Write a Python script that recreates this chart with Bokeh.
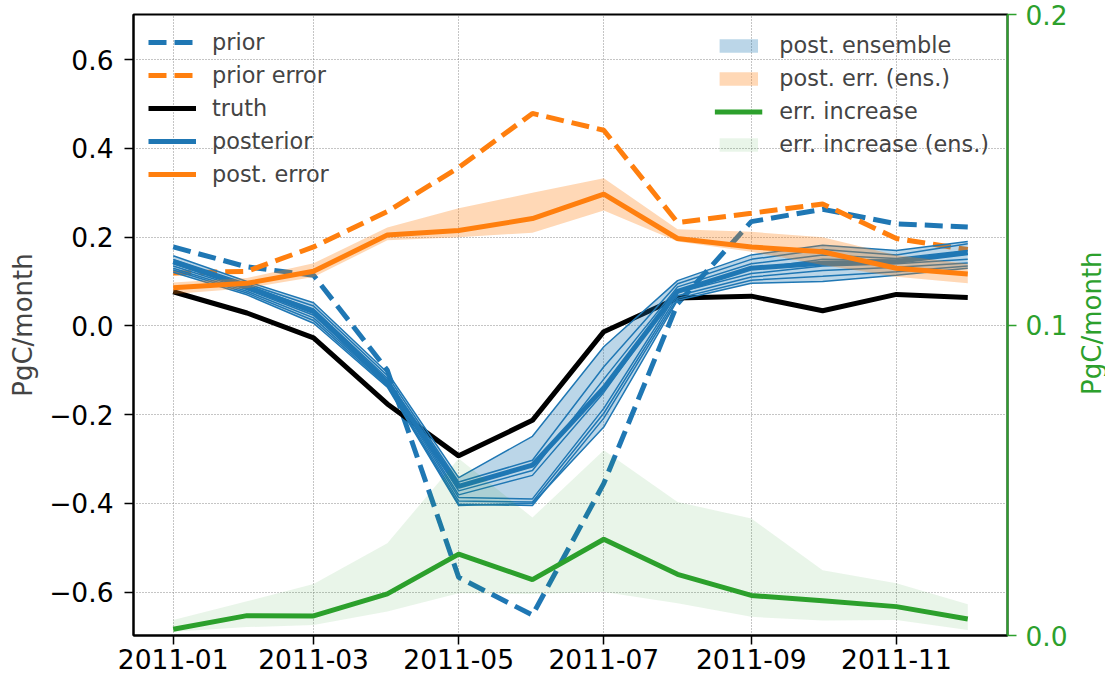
import numpy as np
import pandas as pd
from bokeh.plotting import figure
from bokeh.layouts import row
from bokeh.models import (Range1d, LinearAxis, FixedTicker, Legend, LegendItem)
from bokeh.core.properties import value
from bokeh.embed import file_html
from bokeh.resources import INLINE

# ---------------- data ----------------
months = ["2011-01", "2011-02", "2011-03", "2011-04", "2011-05", "2011-06",
          "2011-07", "2011-08", "2011-09", "2011-10", "2011-11", "2011-12"]
x_tick_labels = ["2011-01", "2011-03", "2011-05", "2011-07", "2011-09", "2011-11"]
y_ticks = [-0.6, -0.4, -0.2, 0.0, 0.2, 0.4, 0.6]
y_tick_labels = ["\u22120.6", "\u22120.4", "\u22120.2", "0.0", "0.2", "0.4", "0.6"]
y2_ticks = [0.0, 0.1, 0.2]
y2_tick_labels = ["0.0", "0.1", "0.2"]

truth = [0.077, 0.029, -0.027, -0.176, -0.293, -0.213, -0.013, 0.063, 0.067, 0.034, 0.071, 0.064]
prior = [0.178, 0.133, 0.114, -0.100, -0.567, -0.652, -0.355, 0.050, 0.235, 0.263, 0.230, 0.223]
prior_error = [0.119, 0.123, 0.178, 0.258, 0.357, 0.479, 0.441, 0.233, 0.254, 0.275, 0.197, 0.172]
posterior = [0.145, 0.088, 0.032, -0.128, -0.362, -0.314, -0.140, 0.078, 0.130, 0.141, 0.145, 0.165]
post_error = [0.086, 0.096, 0.123, 0.205, 0.215, 0.242, 0.297, 0.197, 0.178, 0.167, 0.130, 0.117]
post_err_ens_lo = [0.072, 0.085, 0.110, 0.193, 0.200, 0.210, 0.260, 0.190, 0.167, 0.137, 0.111, 0.096]
post_err_ens_hi = [0.098, 0.108, 0.141, 0.222, 0.265, 0.300, 0.333, 0.218, 0.212, 0.200, 0.159, 0.140]

ens_1 = [0.158, 0.100, 0.052, -0.105, -0.342, -0.249, -0.047, 0.102, 0.160, 0.182, 0.170, 0.190]
ens_2 = [0.150, 0.095, 0.045, -0.112, -0.352, -0.303, -0.092, 0.095, 0.150, 0.172, 0.160, 0.185]
ens_3 = [0.145, 0.090, 0.038, -0.118, -0.372, -0.326, -0.120, 0.088, 0.140, 0.160, 0.152, 0.170]
ens_4 = [0.140, 0.086, 0.030, -0.124, -0.381, -0.337, -0.150, 0.080, 0.128, 0.150, 0.148, 0.162]
ens_5 = [0.135, 0.082, 0.024, -0.128, -0.387, -0.390, -0.186, 0.075, 0.118, 0.135, 0.140, 0.150]
ens_6 = [0.130, 0.078, 0.018, -0.132, -0.395, -0.397, -0.197, 0.068, 0.110, 0.125, 0.132, 0.142]
ens_7 = [0.126, 0.074, 0.012, -0.135, -0.402, -0.405, -0.208, 0.062, 0.103, 0.112, 0.122, 0.135]
ens_8 = [0.121, 0.070, 0.006, -0.138, -0.405, -0.400, -0.228, 0.058, 0.096, 0.100, 0.114, 0.130]

err_increase = [0.0020, 0.0064, 0.0063, 0.0134, 0.0262, 0.0180, 0.0310, 0.0197, 0.0129, 0.0112, 0.0093, 0.0053]
err_inc_ens_lo = [0.0012, 0.0027, 0.0034, 0.0077, 0.0136, 0.0134, 0.0140, 0.0104, 0.0060, 0.0048, 0.0050, 0.0018]
err_inc_ens_hi = [0.0050, 0.0110, 0.0166, 0.0297, 0.0570, 0.0380, 0.0597, 0.0430, 0.0377, 0.0210, 0.0168, 0.0101]

y_label = "PgC/month"

# ---------------- styling ----------------
BLUE = "#1f77b4"
ORANGE = "#ff7f0e"
GREEN = "#2ca02c"
FONT = "DejaVu Sans"
TICK_FS = "26.5px"
LABEL_FS = "26px"

W_MAIN, W_TITLE, H = 1070, 35, 681
BL, BR, BT, BB = 133, 62, 14, 46
FRAME_H = H - BT - BB

dates = pd.to_datetime(months, format="%Y-%m")
ms = dates.astype("int64") // 10**6
span = ms[-1] - ms[0]
x_start, x_end = ms[0] - 0.05 * span, ms[-1] + 0.05 * span
tick_ms = list(pd.to_datetime(x_tick_labels, format="%Y-%m").astype("int64") // 10**6)

p = figure(width=W_MAIN, height=H, x_axis_type="datetime",
           x_range=Range1d(x_start, x_end), y_range=Range1d(-0.698, 0.702),
           output_backend="svg", toolbar_location=None,
           min_border_left=BL, min_border_right=BR, min_border_top=BT, min_border_bottom=BB)
p.extra_y_ranges = {"err": Range1d(0.0, 0.2)}
p.background_fill_color = "white"
p.border_fill_color = "white"
p.outline_line_color = "black"
p.outline_line_width = 2

# grid
p.xgrid.ticker = FixedTicker(ticks=tick_ms)
p.ygrid.ticker = FixedTicker(ticks=y_ticks)
for g in (p.xgrid, p.ygrid):
    g.grid_line_color = "#8a8a8a"
    g.grid_line_dash = "1 2"
    g.grid_line_width = 1

# x axis
xa = p.xaxis[0]
xa.ticker = FixedTicker(ticks=tick_ms)
xa.major_label_overrides = {int(t): l for t, l in zip(tick_ms, x_tick_labels)}
# left axis
ya = p.yaxis[0]
ya.ticker = FixedTicker(ticks=y_ticks)
ya.major_label_overrides = {t: l for t, l in zip(y_ticks, y_tick_labels)}
ya.axis_label = y_label
ya.axis_label_text_font_size = LABEL_FS
ya.axis_label_standoff = 8
for ax in (xa, ya):
    ax.axis_line_color = "black"
    ax.axis_line_width = 2
    ax.major_tick_line_width = 1.5
    ax.major_tick_line_color = "black"
    ax.major_tick_out = 9
    ax.major_tick_in = 0
    ax.minor_tick_line_color = None
    ax.major_label_text_font = FONT
    ax.major_label_text_font_size = TICK_FS
    ax.major_label_text_color = "black"
    ax.axis_label_text_font = FONT
    ax.axis_label_text_font_style = "normal"
xa.major_label_standoff = 4
ya.major_label_standoff = 11

# right axis (ticks)
ra = LinearAxis(y_range_name="err", ticker=FixedTicker(ticks=y2_ticks))
ra.major_label_overrides = {t: l for t, l in zip(y2_ticks, y2_tick_labels)}
ra.axis_line_color = GREEN
ra.axis_line_width = 2
ra.major_tick_line_color = GREEN
ra.major_tick_line_width = 1.5
ra.major_tick_out = 9
ra.major_tick_in = 0
ra.minor_tick_line_color = None
ra.major_label_text_font = FONT
ra.major_label_text_font_size = TICK_FS
ra.major_label_text_color = GREEN
ra.major_label_standoff = 9
p.add_layout(ra, "right")

# ---------------- glyphs ----------------
r_prior = p.line(dates, prior, line_color=BLUE, line_width=5, line_dash="18 8")
r_prior_err = p.line(dates, prior_error, line_color=ORANGE, line_width=5, line_dash="18 8")
r_truth = p.line(dates, truth, line_color="black", line_width=5)

members = [ens_1, ens_2, ens_3, ens_4, ens_5, ens_6, ens_7, ens_8]
ens_lo = np.min(np.array(members), axis=0)
ens_hi = np.max(np.array(members), axis=0)
r_ens_band = p.varea(x=dates, y1=ens_lo, y2=ens_hi, fill_color=BLUE, fill_alpha=0.3)
for m in members:
    p.line(dates, m, line_color=BLUE, line_width=1.5)
r_post = p.line(dates, posterior, line_color=BLUE, line_width=5)

r_perr_band = p.varea(x=dates, y1=post_err_ens_lo, y2=post_err_ens_hi, fill_color=ORANGE, fill_alpha=0.3)
r_perr = p.line(dates, post_error, line_color=ORANGE, line_width=5)

r_inc_band = p.varea(x=dates, y1=err_inc_ens_lo, y2=err_inc_ens_hi, fill_color=GREEN,
                     fill_alpha=0.1, y_range_name="err")
r_inc = p.line(dates, err_increase, line_color=GREEN, line_width=5, y_range_name="err")

# ---------------- legends ----------------
common = dict(label_text_font=FONT, label_text_font_size="22.4px", label_height=26,
              spacing=7, border_line_alpha=0, background_fill_alpha=0,
              glyph_width=48)
leg1 = Legend(items=[LegendItem(label="prior", renderers=[r_prior]),
                     LegendItem(label="prior error", renderers=[r_prior_err]),
                     LegendItem(label="truth", renderers=[r_truth]),
                     LegendItem(label="posterior", renderers=[r_post]),
                     LegendItem(label="post. error", renderers=[r_perr])],
              location="top_left", glyph_height=26, padding=12, margin=3,
              label_standoff=16, **common)
leg2 = Legend(items=[LegendItem(label="post. ensemble", renderers=[r_ens_band]),
                     LegendItem(label="post. err. (ens.)", renderers=[r_perr_band]),
                     LegendItem(label="err. increase", renderers=[r_inc]),
                     LegendItem(label="err. increase (ens.)", renderers=[r_inc_band])],
              location="top_right", glyph_height=17, padding=17, margin=1,
              label_standoff=17, **common)
p.add_layout(leg1)
p.add_layout(leg2)

# ---------------- right-axis title (bottom-to-top, centred on the frame) ----------------
t = figure(width=W_TITLE, height=H, x_range=Range1d(0, W_TITLE), y_range=Range1d(H, 0),
           output_backend="svg", toolbar_location=None,
           x_axis_location=None, y_axis_location=None,
           min_border_left=0, min_border_right=0, min_border_top=0, min_border_bottom=0)
t.outline_line_color = None
t.grid.visible = False
t.background_fill_color = "white"
t.border_fill_color = "white"
t.text(x=[21], y=[BT + FRAME_H / 2 + 14], text=[y_label], angle=np.pi / 2,
       text_align="center", text_baseline="middle",
       text_font=value(FONT), text_font_size=LABEL_FS, text_color=GREEN)

layout = row(p, t, spacing=0)
open("out.html", "w").write(file_html(layout, INLINE))
